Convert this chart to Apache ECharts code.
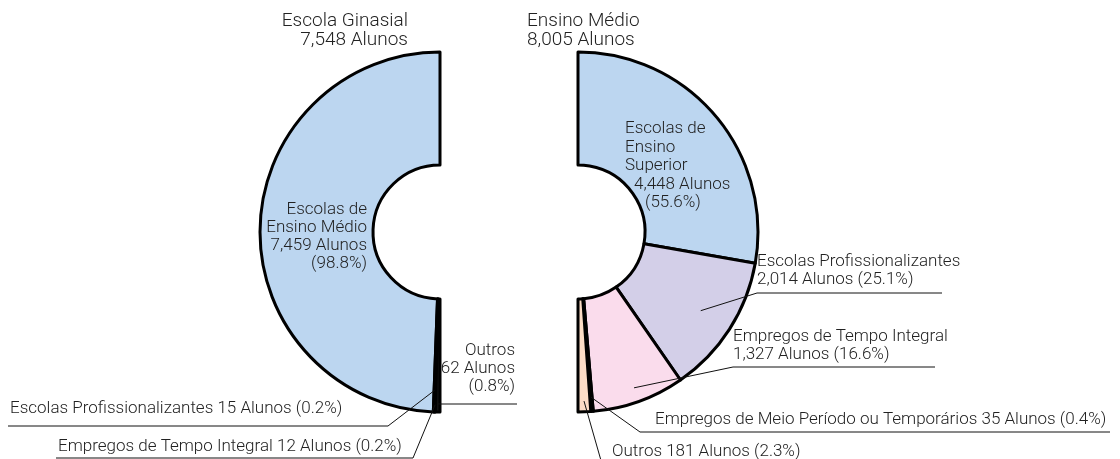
<!DOCTYPE html>
<html>
<head>
<meta charset="utf-8">
<script src="https://cdn.jsdelivr.net/npm/echarts@6/dist/echarts.min.js"></script>
<style>
html, body { margin: 0; padding: 0; background: #fff; }
#main { width: 1120px; height: 459px; }
</style>
</head>
<body>
<div id="main"></div>
<script>
// dados
var ginasioTitulo = ['Escola Ginasial', '7,548 Alunos'];
var medioTitulo = ['Ensino Médio', '8,005 Alunos'];

var ginasioNomes = ['Escolas de\nEnsino Médio', 'Escolas Profissionalizantes', 'Empregos de Tempo Integral', 'Outros'];
var ginasioValores = [7459, 15, 12, 62];
var ginasioPct = ['98.8%', '0.2%', '0.2%', '0.8%'];

var medioNomes = ['Escolas de\nEnsino\nSuperior', 'Escolas Profissionalizantes', 'Empregos de Tempo Integral', 'Empregos de Meio Período ou Temporários', 'Outros'];
var medioValores = [4448, 2014, 1327, 35, 181];
var medioPct = ['55.6%', '25.1%', '16.6%', '0.4%', '2.3%'];

var ginasioCores = ['#bcd6f0', '#111111', '#111111', '#111111'];
var medioCores = ['#bcd6f0', '#d3cfe8', '#fadcec', '#ffffff', '#fcdcc6'];

// posição dos rótulos (layout)
var centroG = [440, 232];
var centroM = [578, 232];
var raio = [67, 180];
var fonte = 'Roboto, "Liberation Sans", sans-serif';

var ginasioLayout = [
    {x: 367, y: 237, align: 'right', va: 'middle', sep: ['\n', '\n']},
    {x: 10, y: 418, align: 'left', va: 'bottom', sep: [' ', ' '], k: 0.88, corner: [388, 426], end: 8},
    {x: 58, y: 456, align: 'left', va: 'bottom', sep: [' ', ' '], k: 0.96, corner: [413, 458], end: 56},
    {x: 515, y: 396, align: 'right', va: 'bottom', sep: ['\n', '\n'], k: 0.955, corner: [440, 404], end: 517}
];
var medioLayout = [
    {x: 625, y: 166, align: 'left', va: 'middle', rich: true},
    {x: 757, y: 289, align: 'left', va: 'bottom', sep: ['\n', ' '], k: 0.81, corner: [757, 293], end: 942},
    {x: 733, y: 364, align: 'left', va: 'bottom', sep: ['\n', ' '], k: 0.92, corner: [733, 367], end: 935},
    {x: 655, y: 429, align: 'left', va: 'bottom', sep: [' ', ' '], k: 0.92, corner: [640, 432], end: 1110},
    {x: 612, y: 461, align: 'left', va: 'bottom', sep: [' ', ' '], k: 0.94, corner: [602, 464], end: 820}
];

function num(v) {
    return v.toLocaleString('en-US');
}

function makeFormatter(nomes, valores, pct, layout) {
    return function (p) {
        var i = p.dataIndex;
        var s = layout[i];
        if (s.rich) {
            var linhas = nomes[i].split('\n');
            return '{a|' + linhas.join('}\n{a|') + '}\n{b|' + num(valores[i]) + ' Alunos}\n{c|(' + pct[i] + ')}';
        }
        return nomes[i] + s.sep[0] + num(valores[i]) + ' Alunos' + s.sep[1] + '(' + pct[i] + ')';
    };
}

// ângulo do meio de cada fatia (meia-volta a partir do topo)
function midAngles(valores) {
    var total = 0, acc = 0, out = [];
    valores.forEach(function (v) { total += v; });
    valores.forEach(function (v) {
        out.push((acc + v / 2) / total * Math.PI);
        acc += v;
    });
    return out;
}

// linhas de chamada: de dentro da fatia até o sublinhado do rótulo
function leaderLines(layout, centro, valores, lado) {
    var angs = midAngles(valores);
    var out = [];
    layout.forEach(function (s, i) {
        if (!s.k) return;
        var r = raio[1] * s.k;
        var a = angs[i];
        out.push({
            type: 'polyline',
            z: 100,
            silent: true,
            shape: {points: [
                [centro[0] + lado * r * Math.sin(a), centro[1] - r * Math.cos(a)],
                s.corner,
                [s.end, s.corner[1]]
            ]},
            style: {stroke: '#111', lineWidth: 1, fill: null}
        });
    });
    return out;
}

function makeLabelLayout(layout) {
    return function (params) {
        var s = layout[params.dataIndex];
        return {x: s.x, y: s.y, align: s.align, verticalAlign: s.va};
    };
}

function makeData(nomes, valores, cores, layout) {
    var arr = [];
    for (var i = 0; i < valores.length; i++) {
        var item = {name: nomes[i], value: valores[i], itemStyle: {color: cores[i]}};
        if (!layout[i].k) {
            item.label = {position: 'inside'};
        }
        arr.push(item);
    }
    return arr;
}

var labelBase = {
    show: true,
    position: 'outside',
    color: '#222',
    fontFamily: fonte,
    fontWeight: 300,
    fontSize: 17,
    lineHeight: 18
};

var richBase = {fontFamily: fonte, fontWeight: 300, fontSize: 17, lineHeight: 18.5, color: '#222'};

var myChart = echarts.init(document.getElementById('main'));

var titulos = [
    {type: 'text', x: 408, y: 12, style: {text: ginasioTitulo.join('\n'), align: 'right', fontFamily: fonte, fontWeight: 300, fontSize: 19, lineHeight: 19, fill: '#222'}},
    {type: 'text', x: 527, y: 12, style: {text: medioTitulo.join('\n'), align: 'left', fontFamily: fonte, fontWeight: 300, fontSize: 19, lineHeight: 19, fill: '#222'}}
];

var option = {
    backgroundColor: '#fff',
    animation: false,
    graphic: titulos
        .concat(leaderLines(ginasioLayout, centroG, ginasioValores, -1))
        .concat(leaderLines(medioLayout, centroM, medioValores, 1)),
    series: [
        {
            name: 'Escola Ginasial',
            type: 'pie',
            center: centroG,
            radius: raio,
            startAngle: 90,
            endAngle: 270,
            clockwise: false,
            avoidLabelOverlap: false,
            itemStyle: {borderColor: '#000', borderWidth: 3},
            label: Object.assign({}, labelBase, {formatter: makeFormatter(ginasioNomes, ginasioValores, ginasioPct, ginasioLayout)}),
            labelLine: {show: false},
            labelLayout: makeLabelLayout(ginasioLayout),
            emphasis: {disabled: true},
            data: makeData(ginasioNomes, ginasioValores, ginasioCores, ginasioLayout)
        },
        {
            name: 'Ensino Médio',
            type: 'pie',
            center: centroM,
            radius: raio,
            startAngle: 90,
            endAngle: -90,
            clockwise: true,
            avoidLabelOverlap: false,
            itemStyle: {borderColor: '#000', borderWidth: 3},
            label: Object.assign({}, labelBase, {
                formatter: makeFormatter(medioNomes, medioValores, medioPct, medioLayout),
                rich: {
                    a: richBase,
                    b: Object.assign({}, richBase, {padding: [0, 0, 0, 9]}),
                    c: Object.assign({}, richBase, {padding: [0, 0, 0, 20]})
                }
            }),
            labelLine: {show: false},
            labelLayout: makeLabelLayout(medioLayout),
            emphasis: {disabled: true},
            data: makeData(medioNomes, medioValores, medioCores, medioLayout)
        }
    ]
};

myChart.setOption(option);
</script>
</body>
</html>
